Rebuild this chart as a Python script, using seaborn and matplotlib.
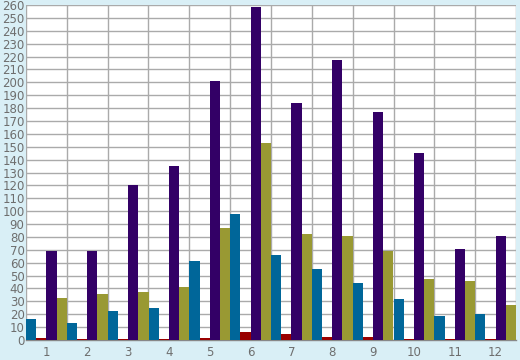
import matplotlib
matplotlib.use("Agg")
import matplotlib.pyplot as plt
import seaborn as sns
import pandas as pd
import numpy as np
from matplotlib.ticker import MultipleLocator, FixedLocator

categories = ["1", "2", "3", "4", "5", "6", "7", "8", "9", "10", "11", "12"]
series_names = ["A", "B", "C", "D"]
series_a = [16.3, 13.2, 22.5, 24.8, 61.3, 97.8, 66, 55, 44.3, 31.8, 18.6, 20.2]
series_b = [1.6, 1.0, 0.5, 0.5, 1.8, 6.2, 4.7, 2.0, 2.0, 0.5, 0.5, 0.5]
series_c = [69, 69, 120, 135, 201, 258.5, 184, 217.4, 177, 145, 70.6, 80.7]
series_d = [32.6, 35.7, 37.3, 41, 87, 153, 82.3, 80.7, 69, 47.4, 45.8, 27.2]
colors = ["#006699", "#990000", "#330066", "#999933"]

rows = []
for name, vals in zip(series_names, [series_a, series_b, series_c, series_d]):
    for c, v in zip(categories, vals):
        rows.append({"cat": c, "series": name, "value": v})
df = pd.DataFrame(rows)

sns.set_theme(style="white")
plt.rcParams["font.family"] = ["DejaVu Sans"]

bg = "#d9eff6"
fig = plt.figure(figsize=(5.2, 3.6), dpi=100, facecolor=bg)
ax = fig.add_axes([26/520, 20/360, 490/520, 335/360])
ax.set_facecolor("white")

sns.barplot(data=df, x="cat", y="value", hue="series", order=categories,
            hue_order=series_names, palette=colors, width=1.0, dodge=True,
            saturation=1, errorbar=None, ax=ax, legend=False, linewidth=0,
            zorder=3)

ax.set_xlim(-0.5, 11.5)
ax.set_ylim(0, 260)
ax.yaxis.set_major_locator(MultipleLocator(10))
ax.set_xticks(range(12))
ax.set_xticklabels(categories)
ax.xaxis.set_minor_locator(FixedLocator(np.arange(-0.5, 12, 1.0)))
ax.grid(True, which="major", axis="y", color="#aaaaaa", linewidth=1.0, zorder=0)
ax.grid(True, which="minor", axis="x", color="#aaaaaa", linewidth=1.0, zorder=0)
ax.grid(False, which="major", axis="x")
ax.set_axisbelow(True)
ax.tick_params(axis="x", which="major", length=0, pad=4, labelsize=8.5, labelcolor="#6e6e6e")
ax.tick_params(axis="x", which="minor", length=5, width=1.0, color="#888888", direction="out")
ax.tick_params(axis="y", which="major", length=0, pad=1, labelsize=8.5, labelcolor="#6e6e6e")
ax.set_xlabel("")
ax.set_ylabel("")
for s in ["top", "right", "left"]:
    ax.spines[s].set_visible(False)
ax.spines["bottom"].set_color("#888888")
ax.spines["bottom"].set_linewidth(1.0)

fig.savefig("out.png", dpi=100, facecolor=bg)
